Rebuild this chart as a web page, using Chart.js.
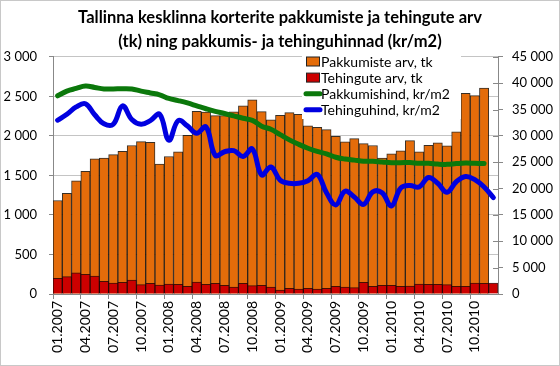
<!DOCTYPE html>
<html>
<head>
<meta charset="utf-8">
<script src="https://cdn.jsdelivr.net/npm/chart.js@4.4.1/dist/chart.umd.min.js"></script>
<style>
  html, body { margin: 0; padding: 0; background: #fff; }
  #wrap { width: 560px; height: 366px; box-sizing: border-box; border: 1px solid #c8c8c8; }
  canvas { display: block; }
</style>
</head>
<body>
<div id="wrap"><canvas id="chart" width="558" height="364"></canvas></div>
<script>
const months = [
  "01.2007", "02.2007", "03.2007", "04.2007", "05.2007", "06.2007", "07.2007", "08.2007", "09.2007", "10.2007", "11.2007", "12.2007",
  "01.2008", "02.2008", "03.2008", "04.2008", "05.2008", "06.2008", "07.2008", "08.2008", "09.2008", "10.2008", "11.2008", "12.2008",
  "01.2009", "02.2009", "03.2009", "04.2009", "05.2009", "06.2009", "07.2009", "08.2009", "09.2009", "10.2009", "11.2009", "12.2009",
  "01.2010", "02.2010", "03.2010", "04.2010", "05.2010", "06.2010", "07.2010", "08.2010", "09.2010", "10.2010", "11.2010", "12.2010"
];

// Pakkumiste arv, tk (left axis)
const offers = [
  1183, 1272, 1431, 1553, 1709, 1718, 1764, 1806, 1878, 1928, 1920, 1642,
  1739, 1797, 2008, 2310, 2300, 2257, 2257, 2305, 2379, 2457, 2307, 2204,
  2259, 2295, 2273, 2126, 2109, 2080, 1996, 1924, 1966, 1903, 1878, 1718,
  1772, 1810, 1941, 1797, 1882, 1911, 1873, 2050, 2539, 2509, 2606, null
];

// Tehingute arv, tk (left axis)
const deals = [
  198, 219, 269, 248, 227, 160, 139, 147, 177, 118, 135, 114,
  126, 122, 97, 152, 122, 135, 110, 88, 135, 105, 110, 88,
  51, 72, 63, 72, 63, 72, 97, 88, 80, 147, 97, 110,
  110, 97, 101, 126, 122, 122, 118, 97, 97, 139, 135, 139
];

// Pakkumishind, kr/m2 (right axis)
const offerPrice = [
  37600, 38500, 39000, 39450, 39200, 38900, 38900, 38950, 38900, 38500, 38150, 37800,
  37100, 36700, 36250, 35700, 35150, 34650, 34250, 33800, 33350, 32950, 31850, 31250,
  30250, 29250, 28400, 27650, 27050, 26600, 25950, 25600, 25400, 25200, 25200, 25050,
  24900, 24900, 24950, 24800, 24800, 24650, 24600, 24750, 24850, 24800, 24750, null
];

// Tehinguhind, kr/m2 (right axis)
const dealPrice = [
  32970, 34100, 35500, 36100, 34000, 32300, 32200, 35700, 33100, 32200, 32900, 34100,
  29200, 32900, 31900, 30500, 31700, 26300, 27000, 27200, 26100, 27500, 22600, 24100,
  21600, 21000, 21000, 21500, 22700, 19200, 16900, 19500, 18400, 17000, 19400, 19200,
  16700, 20100, 20600, 20300, 22100, 21000, 19300, 21300, 22300, 21700, 20300, 18300
];

const leftTicks = { min: 0, max: 3000, step: 500 };
const rightTicks = { min: 0, max: 45000, step: 5000 };

function spaced(v) {
  return String(v).replace(/\B(?=(\d{3})+(?!\d))/g, " ");
}

Chart.defaults.font.family = "Lato, 'Open Sans', sans-serif";
Chart.defaults.font.size = 13;
Chart.defaults.color = "#000";

// legend sits inside the plot, top right, on a white box
const legendBox = {
  id: "legendBox",
  afterDatasetsDraw(chart) {
    const ctx = chart.ctx;
    const ds = chart.data.datasets;
    ctx.save();
    ctx.fillStyle = "#fff";
    ctx.fillRect(301, 52, 159, 66);
    ctx.font = "14px Lato, 'Open Sans', sans-serif";
    ctx.textBaseline = "middle";
    ds.forEach((d, i) => {
      const y = 60.5 + i * 16.1;
      if (d.type === "line") {
        ctx.strokeStyle = d.borderColor;
        ctx.lineWidth = 5;
        ctx.lineCap = "round";
        ctx.beginPath();
        ctx.moveTo(305, y);
        ctx.lineTo(319, y);
        ctx.stroke();
      } else {
        ctx.fillStyle = d.backgroundColor;
        ctx.fillRect(305.5, y - 4.5, 13, 9);
        ctx.strokeStyle = "#222";
        ctx.lineWidth = 1;
        ctx.strokeRect(305.5, y - 4.5, 13, 9);
      }
      ctx.fillStyle = "#000";
      ctx.fillText(d.label, 320, y + 0.5);
    });
    ctx.restore();
  },
};

// right axis tick marks cross the axis line
const innerTicks = {
  id: "innerTicks",
  afterDraw(chart) {
    const s = chart.scales.y1;
    const ctx = chart.ctx;
    ctx.save();
    ctx.strokeStyle = "#888";
    ctx.lineWidth = 1;
    s.ticks.forEach((t) => {
      const y = Math.round(s.getPixelForValue(t.value)) + 0.5;
      ctx.beginPath();
      ctx.moveTo(s.left - 5, y);
      ctx.lineTo(s.left, y);
      ctx.stroke();
    });
    ctx.restore();
  },
};

const ctx = document.getElementById("chart").getContext("2d");

window.chart1 = new Chart(ctx, {
  data: {
    labels: months,
    datasets: [
      {
        type: "bar",
        label: "Pakkumiste arv, tk",
        data: offers,
        backgroundColor: "#E46C0A",
        borderColor: "rgba(20, 10, 0, 0.85)",
        borderWidth: 1,
        categoryPercentage: 1,
        barPercentage: 1,
        yAxisID: "y",
        order: 2,
      },
      {
        type: "bar",
        label: "Tehingute arv, tk",
        data: deals,
        backgroundColor: "#CC0000",
        borderColor: "rgba(40, 0, 0, 0.85)",
        borderWidth: 1,
        categoryPercentage: 1,
        barPercentage: 1,
        yAxisID: "y",
        order: 1,
      },
      {
        type: "line",
        label: "Pakkumishind, kr/m2",
        data: offerPrice,
        borderColor: "#0B780B",
        borderWidth: 5,
        pointRadius: 0,
        tension: 0.4,
        borderCapStyle: "round",
        yAxisID: "y1",
        order: 0,
      },
      {
        type: "line",
        label: "Tehinguhind, kr/m2",
        data: dealPrice,
        borderColor: "#0000E0",
        borderWidth: 5,
        pointRadius: 0,
        tension: 0.4,
        borderCapStyle: "round",
        yAxisID: "y1",
        order: 0,
      },
    ],
  },
  options: {
    responsive: false,
    animation: false,
    layout: { padding: 0 },
    scales: {
      x: {
        stacked: true,
        offset: true,
        grid: {
          offset: true,
          drawOnChartArea: false,
          tickLength: 5,
          color: (c) => (c.index % 3 === 0 ? "#888" : "rgba(0,0,0,0)"),
        },
        border: { color: "#888" },
        ticks: {
          autoSkip: false,
          maxRotation: 90,
          minRotation: 90,
          padding: 2,
          font: { size: 14 },
          callback: function (v, i) {
            return i % 3 === 0 ? this.getLabelForValue(v) : "";
          },
        },
        afterFit(s) {
          s.height = 71;
        },
      },
      y: {
        position: "left",
        min: leftTicks.min,
        max: leftTicks.max,
        ticks: { stepSize: leftTicks.step, padding: 12, callback: spaced },
        grid: { color: "#c4c4c4", tickLength: 4, tickColor: "#888" },
        border: { color: "#888" },
        afterFit(s) {
          s.width = 52;
        },
      },
      y1: {
        position: "right",
        min: rightTicks.min,
        max: rightTicks.max,
        ticks: { stepSize: rightTicks.step, padding: 9, callback: spaced },
        grid: { drawOnChartArea: false, tickLength: 5, color: "#888" },
        border: { color: "#888" },
        afterFit(s) {
          s.width = 61;
        },
      },
    },
    plugins: {
      title: {
        display: true,
        text: [
          "Tallinna kesklinna korterite pakkumiste ja tehingute arv",
          "(tk) ning pakkumis- ja tehinguhinnad (kr/m2)",
        ],
        color: "#000",
        font: { size: 16.5, weight: "bold", lineHeight: 1.48 },
        padding: { top: 4, bottom: 3 },
      },
      legend: { display: false },
      tooltip: { enabled: false },
    },
  },
  plugins: [legendBox, innerTicks],
});
</script>
</body>
</html>
